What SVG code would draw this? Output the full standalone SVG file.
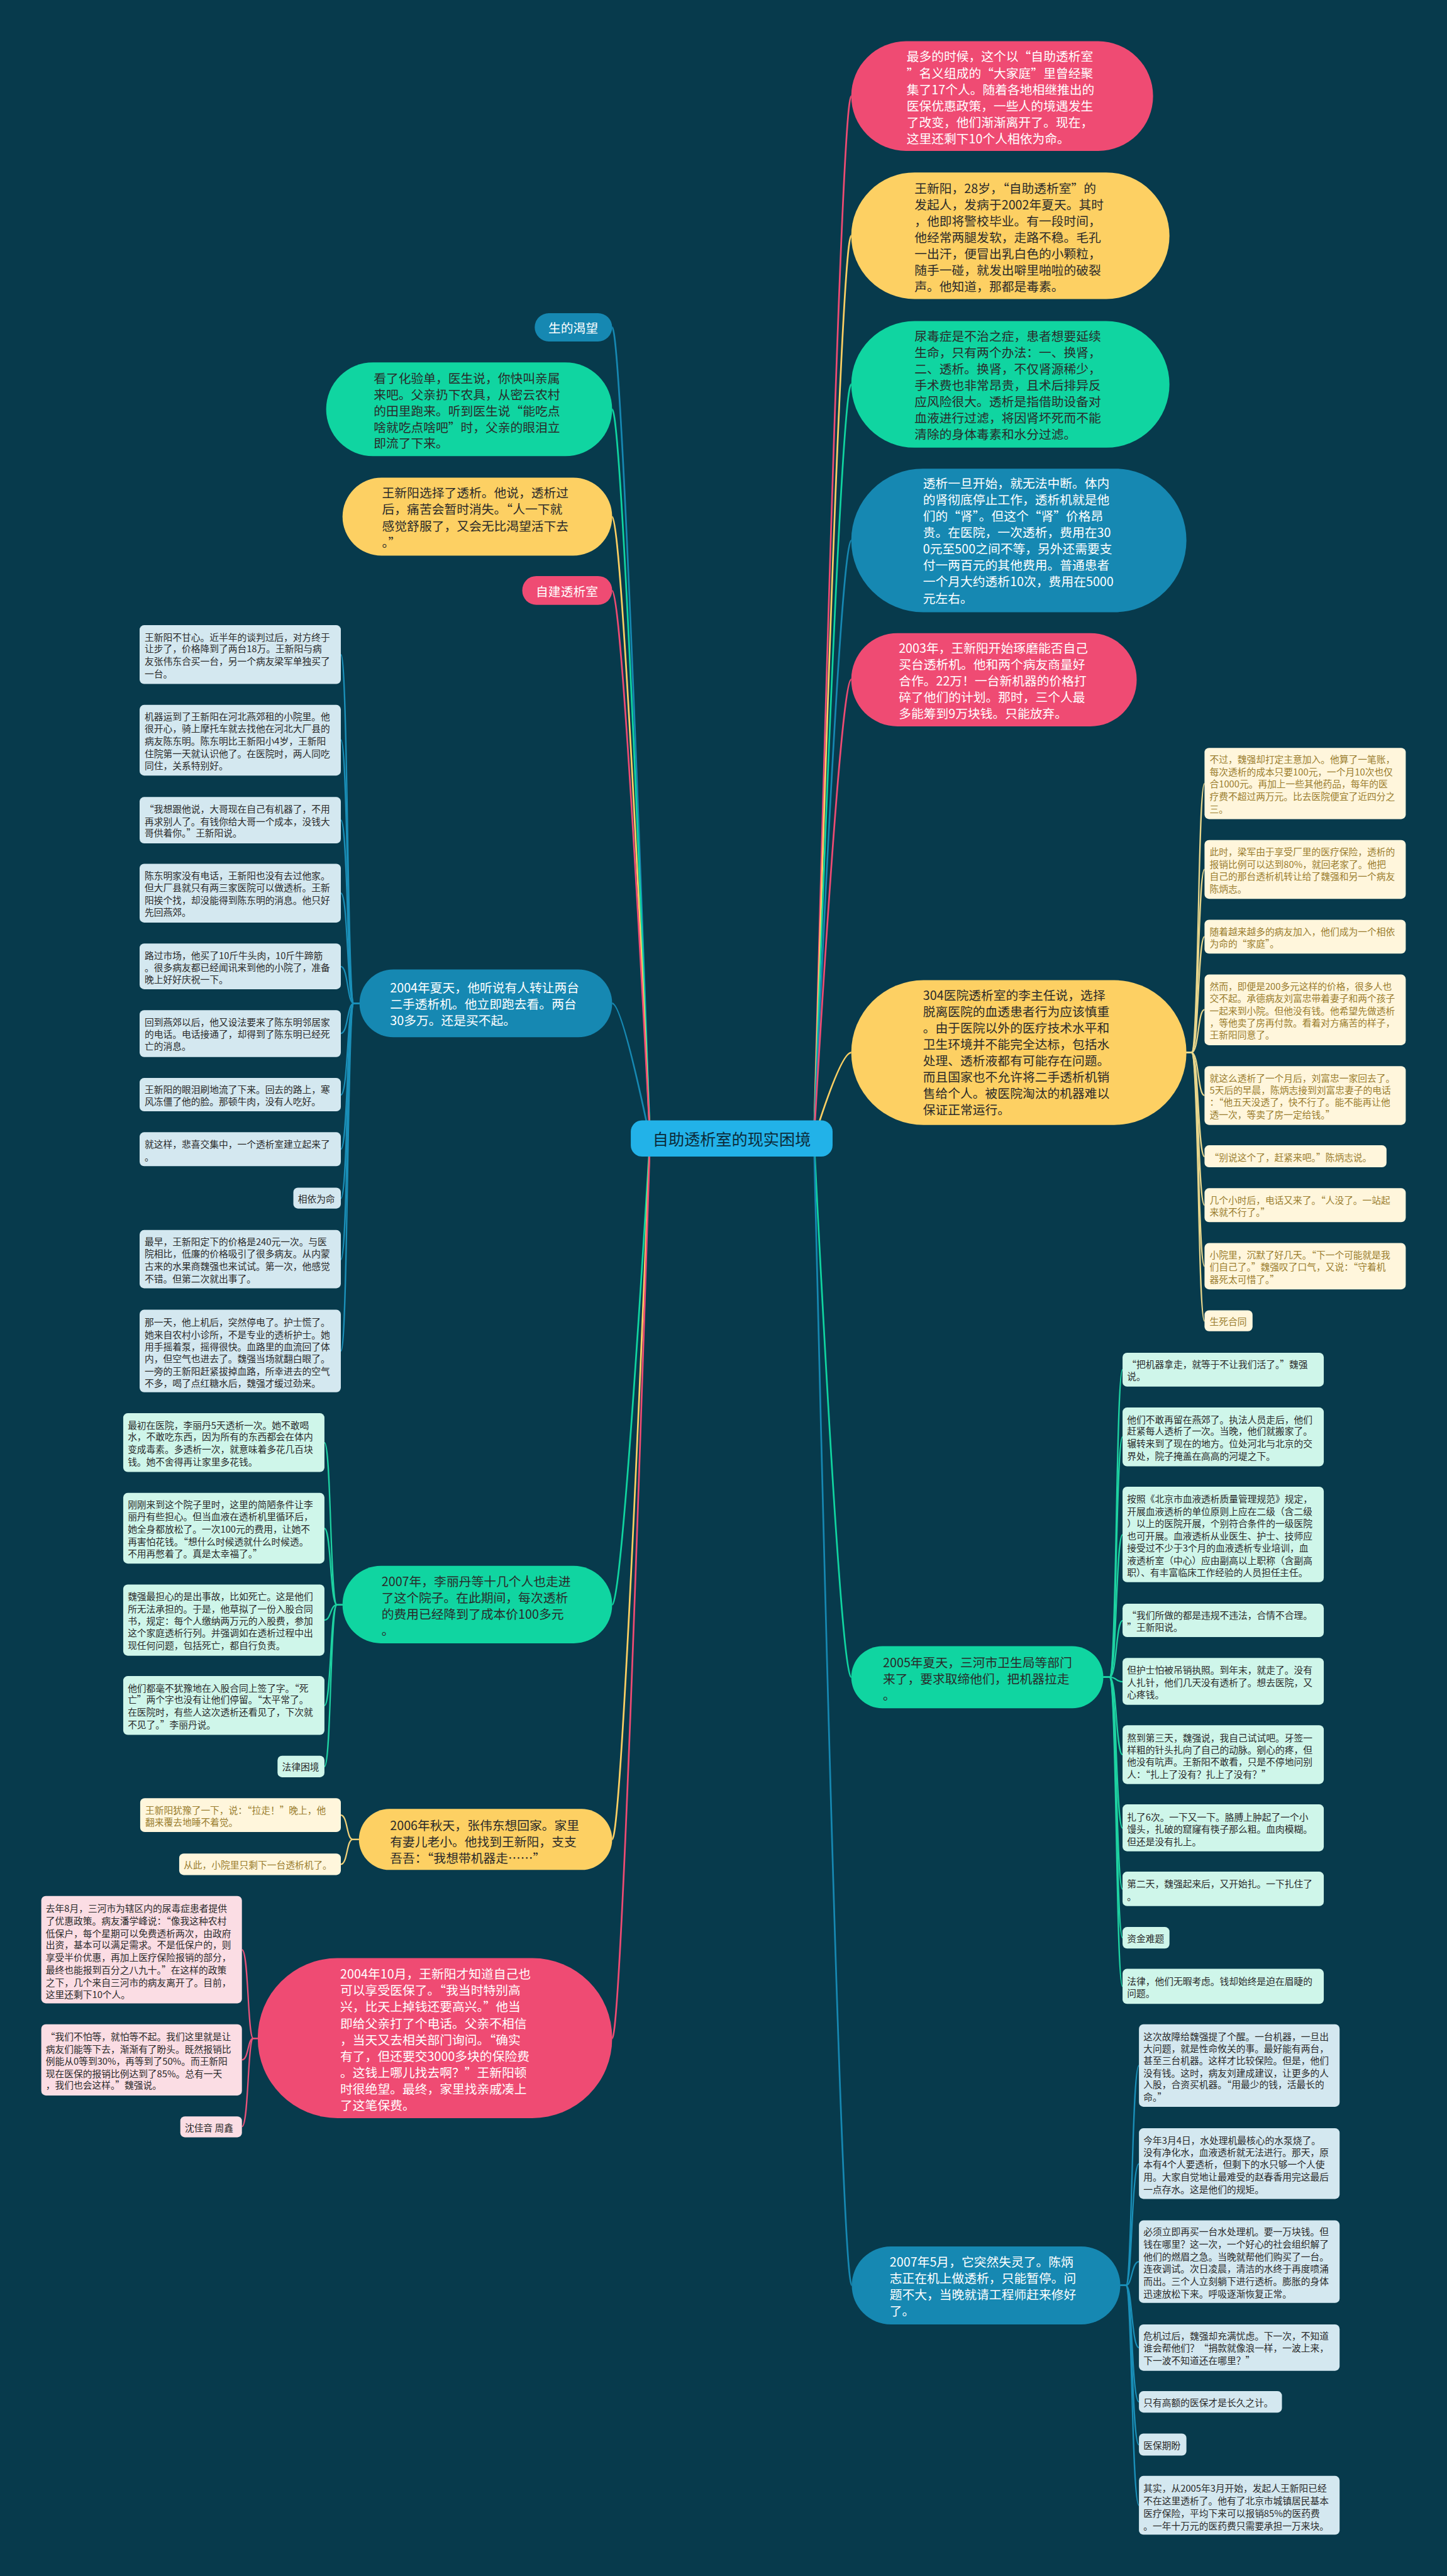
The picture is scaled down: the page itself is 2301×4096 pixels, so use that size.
<svg xmlns="http://www.w3.org/2000/svg" width="2301" height="4096" viewBox="0 0 2301 4096">
<style>
text{font-family:"Noto Sans CJK SC","Noto Sans",sans-serif;dominant-baseline:central}
.m{font-size:22px}
.c{font-size:16.4px}
.w{fill:#ffffff}
.d{fill:#2a2a2a}
.g{fill:#9a7d2e}
.cc{fill:none;stroke-width:3}
.ch{fill:none;stroke-width:2.5}
.pk{fill:#ef4b73}.yl{fill:#fdd063}.gn{fill:#10d5a1}.bl{fill:#1688b2}
.cr{fill:#fff6dc}.mn{fill:#cff6ea}.lb{fill:#d4e8f0}.lp{fill:#fbdde4}
</style>
<rect x="0" y="0" width="2301" height="4096" fill="#073a4c"/>
<g transform="scale(0.898828)">
<g id="connectors">
<!-- root to right -->
<path class="cc" stroke="#ef4b73" d="M1440 2014 Q1488 170 1506 170"/>
<path class="cc" stroke="#fdd063" d="M1440 2014 Q1488 417 1506 417"/>
<path class="cc" stroke="#10d5a1" d="M1440 2014 Q1488 680 1506 680"/>
<path class="cc" stroke="#1688b2" d="M1440 2014 Q1488 956 1506 956"/>
<path class="cc" stroke="#ef4b73" d="M1440 2014 Q1488 1202 1506 1202"/>
<path class="cc" stroke="#fdd063" d="M1440 2014 Q1488 1862 1506 1862"/>
<path class="cc" stroke="#10d5a1" d="M1440 2014 Q1488 2967 1506 2967"/>
<path class="cc" stroke="#1688b2" d="M1440 2014 Q1488 4043 1507 4043"/>
<!-- root to left -->
<path class="cc" stroke="#1688b2" d="M1150 2014 Q1100 579 1083 579"/>
<path class="cc" stroke="#10d5a1" d="M1150 2014 Q1100 724 1083 724"/>
<path class="cc" stroke="#fdd063" d="M1150 2014 Q1100 914 1083 914"/>
<path class="cc" stroke="#ef4b73" d="M1150 2014 Q1100 1045 1083 1045"/>
<path class="cc" stroke="#1688b2" d="M1150 2014 Q1100 1775 1083 1775"/>
<path class="cc" stroke="#10d5a1" d="M1150 2014 Q1100 2839 1083 2839"/>
<path class="cc" stroke="#fdd063" d="M1150 2014 Q1100 3254 1083 3254"/>
<path class="cc" stroke="#ef4b73" d="M1150 2014 Q1100 3606 1083 3606"/>
<!-- R6 children -->
<g stroke="#e8d68c">
<path class="ch" d="M2099 1862 H2108 C2121 1862 2119 1386 2131 1386"/>
<path class="ch" d="M2099 1862 H2108 C2121 1862 2119 1538 2131 1538"/>
<path class="ch" d="M2099 1862 H2108 C2121 1862 2119 1657 2131 1657"/>
<path class="ch" d="M2099 1862 H2108 C2121 1862 2119 1786 2131 1786"/>
<path class="ch" d="M2099 1862 H2108 C2121 1862 2119 1938 2131 1938"/>
<path class="ch" d="M2099 1862 H2108 C2121 1862 2119 2046 2131 2046"/>
<path class="ch" d="M2099 1862 H2108 C2121 1862 2119 2132 2131 2132"/>
<path class="ch" d="M2099 1862 H2108 C2121 1862 2119 2240 2131 2240"/>
<path class="ch" d="M2099 1862 H2108 C2121 1862 2119 2337 2131 2337"/>
</g>
<!-- R7 children -->
<g stroke="#1ed2a2">
<path class="ch" d="M1952 2967 H1963 C1976 2967 1974 2423 1986 2423"/>
<path class="ch" d="M1952 2967 H1963 C1976 2967 1974 2542 1986 2542"/>
<path class="ch" d="M1952 2967 H1963 C1976 2967 1974 2715 1986 2715"/>
<path class="ch" d="M1952 2967 H1963 C1976 2967 1974 2867 1986 2867"/>
<path class="ch" d="M1952 2967 H1963 C1976 2967 1974 2975 1986 2975"/>
<path class="ch" d="M1952 2967 H1963 C1976 2967 1974 3104 1986 3104"/>
<path class="ch" d="M1952 2967 H1963 C1976 2967 1974 3234 1986 3234"/>
<path class="ch" d="M1952 2967 H1963 C1976 2967 1974 3342 1986 3342"/>
<path class="ch" d="M1952 2967 H1963 C1976 2967 1974 3428 1986 3428"/>
<path class="ch" d="M1952 2967 H1963 C1976 2967 1974 3514 1986 3514"/>
</g>
<!-- R8 children -->
<g stroke="#1a8fb8">
<path class="ch" d="M1982 4043 H1992 C2003 4043 2002 3654 2015 3654"/>
<path class="ch" d="M1982 4043 H1992 C2003 4043 2002 3828 2015 3828"/>
<path class="ch" d="M1982 4043 H1992 C2003 4043 2002 4001 2015 4001"/>
<path class="ch" d="M1982 4043 H1992 C2003 4043 2002 4153 2015 4153"/>
<path class="ch" d="M1982 4043 H1992 C2003 4043 2002 4249 2015 4249"/>
<path class="ch" d="M1982 4043 H1992 C2003 4043 2002 4325 2015 4325"/>
<path class="ch" d="M1982 4043 H1992 C2003 4043 2002 4432 2015 4432"/>
</g>
<!-- 2004 summer children -->
<g stroke="#1a8fb8">
<path class="ch" d="M636 1775 H626 C614 1775 616 1158 603 1158"/>
<path class="ch" d="M636 1775 H626 C614 1775 616 1309 603 1309"/>
<path class="ch" d="M636 1775 H626 C614 1775 616 1451 603 1451"/>
<path class="ch" d="M636 1775 H626 C614 1775 616 1580 603 1580"/>
<path class="ch" d="M636 1775 H626 C614 1775 616 1710 603 1710"/>
<path class="ch" d="M636 1775 H626 C614 1775 616 1828 603 1828"/>
<path class="ch" d="M636 1775 H626 C614 1775 616 1937 603 1937"/>
<path class="ch" d="M636 1775 H626 C614 1775 616 2033 603 2033"/>
<path class="ch" d="M636 1775 H626 C614 1775 616 2120 603 2120"/>
<path class="ch" d="M636 1775 H626 C614 1775 616 2228 603 2228"/>
<path class="ch" d="M636 1775 H626 C614 1775 616 2390 603 2390"/>
</g>
<!-- 2007 children -->
<g stroke="#1ed2a2">
<path class="ch" d="M606 2839 H596 C584 2839 586 2552 574 2552"/>
<path class="ch" d="M606 2839 H596 C584 2839 586 2704 574 2704"/>
<path class="ch" d="M606 2839 H596 C584 2839 586 2866 574 2866"/>
<path class="ch" d="M606 2839 H596 C584 2839 586 3017 574 3017"/>
<path class="ch" d="M606 2839 H596 C584 2839 586 3125 574 3125"/>
</g>
<!-- 2006 children -->
<g stroke="#f2d27a">
<path class="ch" d="M635 3254 H624 C613 3254 615 3211 603 3211"/>
<path class="ch" d="M635 3254 H624 C613 3254 615 3298 603 3298"/>
</g>
<!-- 2004.10 children -->
<g stroke="#e8527a">
<path class="ch" d="M456 3606 H448 C438 3606 440 3449 428 3449"/>
<path class="ch" d="M456 3606 H448 C438 3606 440 3644 428 3644"/>
<path class="ch" d="M456 3606 H448 C438 3606 440 3762 428 3762"/>
</g>
</g>

<g id="n-root"><rect x="1116" y="1982" width="357" height="64" rx="20" fill="#22b2e8"/><text x="1294.5" y="2014" text-anchor="middle" font-size="28" fill="#0c2a38">自助透析室的现实困境</text></g>

<!-- right main nodes -->
<g id="n-r1"><rect class="pk" x="1506" y="73" width="534" height="194" rx="97"/>
<text class="m w" x="1604" y="99">最多的时候，这个以“自助透析室</text>
<text class="m w" x="1604" y="128">”名义组成的“大家庭”里曾经聚</text>
<text class="m w" x="1604" y="157">集了17个人。随着各地相继推出的</text>
<text class="m w" x="1604" y="186">医保优惠政策，一些人的境遇发生</text>
<text class="m w" x="1604" y="215">了改变，他们渐渐离开了。现在，</text>
<text class="m w" x="1604" y="244">这里还剩下10个人相依为命。</text></g>

<g id="n-r2"><rect class="yl" x="1506" y="305" width="563" height="224" rx="112"/>
<text class="m d" x="1618" y="332">王新阳，28岁，“自助透析室”的</text>
<text class="m d" x="1618" y="361">发起人，发病于2002年夏天。其时</text>
<text class="m d" x="1618" y="390">，他即将警校毕业。有一段时间，</text>
<text class="m d" x="1618" y="419">他经常两腿发软，走路不稳。毛孔</text>
<text class="m d" x="1618" y="448">一出汗，便冒出乳白色的小颗粒，</text>
<text class="m d" x="1618" y="477">随手一碰，就发出噼里啪啦的破裂</text>
<text class="m d" x="1618" y="506">声。他知道，那都是毒素。</text></g>

<g id="n-r3"><rect class="gn" x="1506" y="568" width="563" height="224" rx="112"/>
<text class="m d" x="1618" y="593">尿毒症是不治之症，患者想要延续</text>
<text class="m d" x="1618" y="622">生命，只有两个办法：一、换肾，</text>
<text class="m d" x="1618" y="651">二、透析。换肾，不仅肾源稀少，</text>
<text class="m d" x="1618" y="680">手术费也非常昂贵，且术后排异反</text>
<text class="m d" x="1618" y="709">应风险很大。透析是指借助设备对</text>
<text class="m d" x="1618" y="738">血液进行过滤，将因肾坏死而不能</text>
<text class="m d" x="1618" y="767">清除的身体毒素和水分过滤。</text></g>

<g id="n-r4"><rect class="bl" x="1506" y="829" width="593" height="254" rx="127"/>
<text class="m w" x="1633" y="854">透析一旦开始，就无法中断。体内</text>
<text class="m w" x="1633" y="883">的肾彻底停止工作，透析机就是他</text>
<text class="m w" x="1633" y="912">们的“肾”。但这个“肾”价格昂</text>
<text class="m w" x="1633" y="941">贵。在医院，一次透析，费用在30</text>
<text class="m w" x="1633" y="970">0元至500之间不等，另外还需要支</text>
<text class="m w" x="1633" y="999">付一两百元的其他费用。普通患者</text>
<text class="m w" x="1633" y="1028">一个月大约透析10次，费用在5000</text>
<text class="m w" x="1633" y="1057">元左右。</text></g>

<g id="n-r5"><rect class="pk" x="1506" y="1120" width="505" height="165" rx="82"/>
<text class="m w" x="1590" y="1145">2003年，王新阳开始琢磨能否自己</text>
<text class="m w" x="1590" y="1174">买台透析机。他和两个病友商量好</text>
<text class="m w" x="1590" y="1203">合作。22万！一台新机器的价格打</text>
<text class="m w" x="1590" y="1232">碎了他们的计划。那时，三个人最</text>
<text class="m w" x="1590" y="1261">多能筹到9万块钱。只能放弃。</text></g>

<g id="n-r6"><rect class="yl" x="1506" y="1734" width="593" height="256" rx="128"/>
<text class="m d" x="1633" y="1759">304医院透析室的李主任说，选择</text>
<text class="m d" x="1633" y="1788">脱离医院的血透患者行为应该慎重</text>
<text class="m d" x="1633" y="1817">。由于医院以外的医疗技术水平和</text>
<text class="m d" x="1633" y="1846">卫生环境并不能完全达标，包括水</text>
<text class="m d" x="1633" y="1875">处理、透析液都有可能存在问题。</text>
<text class="m d" x="1633" y="1904">而且国家也不允许将二手透析机销</text>
<text class="m d" x="1633" y="1933">售给个人。被医院淘汰的机器难以</text>
<text class="m d" x="1633" y="1962">保证正常运行。</text></g>

<g id="n-r7"><rect class="gn" x="1506" y="2912" width="446" height="110" rx="55"/>
<text class="m d" x="1562" y="2940">2005年夏天，三河市卫生局等部门</text>
<text class="m d" x="1562" y="2969">来了，要求取缔他们，把机器拉走</text>
<text class="m d" x="1562" y="2998">。</text></g>

<g id="n-r8"><rect class="bl" x="1507" y="3974" width="475" height="138" rx="69"/>
<text class="m w" x="1574" y="4000">2007年5月，它突然失灵了。陈炳</text>
<text class="m w" x="1574" y="4029">志正在机上做透析，只能暂停。问</text>
<text class="m w" x="1574" y="4058">题不大，当晚就请工程师赶来修好</text>
<text class="m w" x="1574" y="4087">了。</text></g>

<!-- R6 children -->
<g id="n-r6c1"><rect class="cr" x="2131" y="1323" width="356" height="126" rx="8"/>
<text class="c g" x="2140" y="1342">不过，魏强却打定主意加入。他算了一笔账，</text>
<text class="c g" x="2140" y="1364">每次透析的成本只要100元，一个月10次也仅</text>
<text class="c g" x="2140" y="1386">合1000元。再加上一些其他药品，每年的医</text>
<text class="c g" x="2140" y="1408">疗费不超过两万元。比去医院便宜了近四分之</text>
<text class="c g" x="2140" y="1430">三。</text></g>
<g id="n-r6c2"><rect class="cr" x="2131" y="1486" width="356" height="104" rx="8"/>
<text class="c g" x="2140" y="1506">此时，梁军由于享受厂里的医疗保险，透析的</text>
<text class="c g" x="2140" y="1528">报销比例可以达到80%，就回老家了。他把</text>
<text class="c g" x="2140" y="1549">自己的那台透析机转让给了魏强和另一个病友</text>
<text class="c g" x="2140" y="1571">陈炳志。</text></g>
<g id="n-r6c3"><rect class="cr" x="2131" y="1627" width="356" height="60" rx="8"/>
<text class="c g" x="2140" y="1647">随着越来越多的病友加入，他们成为一个相依</text>
<text class="c g" x="2140" y="1668">为命的“家庭”。</text></g>
<g id="n-r6c4"><rect class="cr" x="2131" y="1724" width="356" height="125" rx="8"/>
<text class="c g" x="2140" y="1744">然而，即便是200多元这样的价格，很多人也</text>
<text class="c g" x="2140" y="1765">交不起。承德病友刘富忠带着妻子和两个孩子</text>
<text class="c g" x="2140" y="1787">一起来到小院。但他没有钱。他希望先做透析</text>
<text class="c g" x="2140" y="1809">，等他卖了房再付款。看着对方痛苦的样子，</text>
<text class="c g" x="2140" y="1830">王新阳同意了。</text></g>
<g id="n-r6c5"><rect class="cr" x="2131" y="1886" width="356" height="104" rx="8"/>
<text class="c g" x="2140" y="1906">就这么透析了一个月后，刘富忠一家回去了。</text>
<text class="c g" x="2140" y="1927">5天后的早晨，陈炳志接到刘富忠妻子的电话</text>
<text class="c g" x="2140" y="1949">：“他五天没透了，快不行了。能不能再让他</text>
<text class="c g" x="2140" y="1971">透一次，等卖了房一定给钱。”</text></g>
<g id="n-r6c6"><rect class="cr" x="2131" y="2026" width="322" height="39" rx="8"/>
<text class="c g" x="2140" y="2046">“别说这个了，赶紧来吧。”陈炳志说。</text></g>
<g id="n-r6c7"><rect class="cr" x="2131" y="2102" width="356" height="60" rx="8"/>
<text class="c g" x="2140" y="2122">几个小时后，电话又来了。“人没了。一站起</text>
<text class="c g" x="2140" y="2143">来就不行了。”</text></g>
<g id="n-r6c8"><rect class="cr" x="2131" y="2199" width="356" height="82" rx="8"/>
<text class="c g" x="2140" y="2219">小院里，沉默了好几天。“下一个可能就是我</text>
<text class="c g" x="2140" y="2240">们自己了。”魏强叹了口气，又说：“守着机</text>
<text class="c g" x="2140" y="2262">器死太可惜了。”</text></g>
<g id="n-r6c9"><rect class="cr" x="2131" y="2318" width="85" height="37" rx="8"/>
<text class="c g" x="2140" y="2337">生死合同</text></g>

<!-- R7 children -->
<g id="n-r7c1"><rect class="mn" x="1986" y="2393" width="356" height="60" rx="8"/>
<text class="c d" x="1994" y="2413">“把机器拿走，就等于不让我们活了。”魏强</text>
<text class="c d" x="1994" y="2434">说。</text></g>
<g id="n-r7c2"><rect class="mn" x="1986" y="2490" width="356" height="104" rx="8"/>
<text class="c d" x="1994" y="2510">他们不敢再留在燕郊了。执法人员走后，他们</text>
<text class="c d" x="1994" y="2531">赶紧每人透析了一次。当晚，他们就搬家了。</text>
<text class="c d" x="1994" y="2553">辗转来到了现在的地方。位处河北与北京的交</text>
<text class="c d" x="1994" y="2575">界处，院子掩盖在高高的河堤之下。</text></g>
<g id="n-r7c3"><rect class="mn" x="1986" y="2630" width="356" height="169" rx="8"/>
<text class="c d" x="1994" y="2651">按照《北京市血液透析质量管理规范》规定，</text>
<text class="c d" x="1994" y="2673">开展血液透析的单位原则上应在二级（含二级</text>
<text class="c d" x="1994" y="2694">）以上的医院开展，个别符合条件的一级医院</text>
<text class="c d" x="1994" y="2716">也可开展。血液透析从业医生、护士、技师应</text>
<text class="c d" x="1994" y="2738">接受过不少于3个月的血液透析专业培训，血</text>
<text class="c d" x="1994" y="2760">液透析室（中心）应由副高以上职称（含副高</text>
<text class="c d" x="1994" y="2781">职）、有丰富临床工作经验的人员担任主任。</text></g>
<g id="n-r7c4"><rect class="mn" x="1986" y="2837" width="356" height="59" rx="8"/>
<text class="c d" x="1994" y="2856">“我们所做的都是违规不违法，合情不合理。</text>
<text class="c d" x="1994" y="2878">”王新阳说。</text></g>
<g id="n-r7c5"><rect class="mn" x="1986" y="2933" width="356" height="83" rx="8"/>
<text class="c d" x="1994" y="2953">但护士怕被吊销执照。到年末，就走了。没有</text>
<text class="c d" x="1994" y="2975">人扎针，他们几天没有透析了。想去医院，又</text>
<text class="c d" x="1994" y="2997">心疼钱。</text></g>
<g id="n-r7c6"><rect class="mn" x="1986" y="3052" width="356" height="104" rx="8"/>
<text class="c d" x="1994" y="3074">熬到第三天，魏强说，我自己试试吧。牙签一</text>
<text class="c d" x="1994" y="3095">样粗的针头扎向了自己的动脉。剜心的疼，但</text>
<text class="c d" x="1994" y="3116">他没有吭声。王新阳不敢看，只是不停地问别</text>
<text class="c d" x="1994" y="3138">人：“扎上了没有？扎上了没有？”</text></g>
<g id="n-r7c7"><rect class="mn" x="1986" y="3192" width="356" height="83" rx="8"/>
<text class="c d" x="1994" y="3214">扎了6次。一下又一下。胳膊上肿起了一个小</text>
<text class="c d" x="1994" y="3235">馒头，扎破的窟窿有筷子那么粗。血肉模糊。</text>
<text class="c d" x="1994" y="3257">但还是没有扎上。</text></g>
<g id="n-r7c8"><rect class="mn" x="1986" y="3311" width="356" height="61" rx="8"/>
<text class="c d" x="1994" y="3332">第二天，魏强起来后，又开始扎。一下扎住了</text>
<text class="c d" x="1994" y="3354">。</text></g>
<g id="n-r7c9"><rect class="mn" x="1986" y="3409" width="83" height="38" rx="8"/>
<text class="c d" x="1994" y="3428">资金难题</text></g>
<g id="n-r7c10"><rect class="mn" x="1986" y="3483" width="356" height="62" rx="8"/>
<text class="c d" x="1994" y="3504">法律，他们无暇考虑。钱却始终是迫在眉睫的</text>
<text class="c d" x="1994" y="3525">问题。</text></g>

<!-- R8 children -->
<g id="n-r8c1"><rect class="lb" x="2015" y="3581" width="355" height="146" rx="8"/>
<text class="c d" x="2023" y="3602">这次故障给魏强提了个醒。一台机器，一旦出</text>
<text class="c d" x="2023" y="3623">大问题，就是性命攸关的事。最好能有两台，</text>
<text class="c d" x="2023" y="3644">甚至三台机器。这样才比较保险。但是，他们</text>
<text class="c d" x="2023" y="3666">没有钱。这时，病友刘建成建议，让更多的人</text>
<text class="c d" x="2023" y="3687">入股，合资买机器。“用最少的钱，活最长的</text>
<text class="c d" x="2023" y="3709">命。”</text></g>
<g id="n-r8c2"><rect class="lb" x="2015" y="3765" width="355" height="125" rx="8"/>
<text class="c d" x="2023" y="3786">今年3月4日，水处理机最核心的水泵烧了。</text>
<text class="c d" x="2023" y="3807">没有净化水，血液透析就无法进行。那天，原</text>
<text class="c d" x="2023" y="3828">本有4个人要透析，但剩下的水只够一个人使</text>
<text class="c d" x="2023" y="3850">用。大家自觉地让最难受的赵春香用完这最后</text>
<text class="c d" x="2023" y="3872">一点存水。这是他们的规矩。</text></g>
<g id="n-r8c3"><rect class="lb" x="2015" y="3928" width="355" height="146" rx="8"/>
<text class="c d" x="2023" y="3947">必须立即再买一台水处理机。要一万块钱。但</text>
<text class="c d" x="2023" y="3969">钱在哪里？这一次，一个好心的社会组织解了</text>
<text class="c d" x="2023" y="3991">他们的燃眉之急。当晚就帮他们购买了一台。</text>
<text class="c d" x="2023" y="4013">连夜调试。次日凌晨，清洁的水终于再度喷涌</text>
<text class="c d" x="2023" y="4035">而出。三个人立刻躺下进行透析。膨胀的身体</text>
<text class="c d" x="2023" y="4057">迅速放松下来。呼吸逐渐恢复正常。</text></g>
<g id="n-r8c4"><rect class="lb" x="2015" y="4112" width="355" height="82" rx="8"/>
<text class="c d" x="2023" y="4131">危机过后，魏强却充满忧虑。下一次，不知道</text>
<text class="c d" x="2023" y="4153">谁会帮他们？“捐款就像浪一样，一波上来，</text>
<text class="c d" x="2023" y="4175">下一波不知道还在哪里？”</text></g>
<g id="n-r8c5"><rect class="lb" x="2015" y="4230" width="253" height="38" rx="8"/>
<text class="c d" x="2023" y="4249">只有高额的医保才是长久之计。</text></g>
<g id="n-r8c6"><rect class="lb" x="2015" y="4305" width="84" height="39" rx="8"/>
<text class="c d" x="2023" y="4325">医保期盼</text></g>
<g id="n-r8c7"><rect class="lb" x="2015" y="4380" width="355" height="104" rx="8"/>
<text class="c d" x="2023" y="4401">其实，从2005年3月开始，发起人王新阳已经</text>
<text class="c d" x="2023" y="4423">不在这里透析了。他有了北京市城镇居民基本</text>
<text class="c d" x="2023" y="4445">医疗保险，平均下来可以报销85%的医药费</text>
<text class="c d" x="2023" y="4467">。一年十万元的医药费只需要承担一万来块。</text></g>

<!-- left main nodes -->
<g id="n-l1"><rect class="bl" x="946" y="554" width="137" height="50" rx="25"/>
<text class="m w" x="1014" y="579" text-anchor="middle">生的渴望</text></g>
<g id="n-l2"><rect class="gn" x="577" y="641" width="506" height="166" rx="83"/>
<text class="m d" x="661" y="668">看了化验单，医生说，你快叫亲属</text>
<text class="m d" x="661" y="697">来吧。父亲扔下农具，从密云农村</text>
<text class="m d" x="661" y="726">的田里跑来。听到医生说“能吃点</text>
<text class="m d" x="661" y="755">啥就吃点啥吧”时，父亲的眼泪立</text>
<text class="m d" x="661" y="783">即流了下来。</text></g>
<g id="n-l3"><rect class="yl" x="606" y="845" width="477" height="138" rx="69"/>
<text class="m d" x="676" y="871">王新阳选择了透析。他说，透析过</text>
<text class="m d" x="676" y="900">后，痛苦会暂时消失。“人一下就</text>
<text class="m d" x="676" y="929">感觉舒服了，又会无比渴望活下去</text>
<text class="m d" x="676" y="958">。”</text></g>
<g id="n-l4"><rect class="pk" x="924" y="1019" width="159" height="51" rx="25"/>
<text class="m w" x="1003" y="1045" text-anchor="middle">自建透析室</text></g>
<g id="n-l5"><rect class="bl" x="636" y="1715" width="447" height="120" rx="60"/>
<text class="m w" x="690" y="1746">2004年夏天，他听说有人转让两台</text>
<text class="m w" x="690" y="1775">二手透析机。他立即跑去看。两台</text>
<text class="m w" x="690" y="1804">30多万。还是买不起。</text></g>
<g id="n-l6"><rect class="gn" x="606" y="2770" width="477" height="137" rx="68"/>
<text class="m d" x="675" y="2796">2007年，李丽丹等十几个人也走进</text>
<text class="m d" x="675" y="2825">了这个院子。在此期间，每次透析</text>
<text class="m d" x="675" y="2854">的费用已经降到了成本价100多元</text>
<text class="m d" x="675" y="2883">。</text></g>
<g id="n-l7"><rect class="yl" x="635" y="3200" width="448" height="108" rx="54"/>
<text class="m d" x="690" y="3228">2006年秋天，张伟东想回家。家里</text>
<text class="m d" x="690" y="3257">有妻儿老小。他找到王新阳，支支</text>
<text class="m d" x="690" y="3286">吾吾：“我想带机器走……”</text></g>
<g id="n-l8"><rect class="pk" x="456" y="3464" width="627" height="283" rx="141"/>
<text class="m w" x="602" y="3491">2004年10月，王新阳才知道自己也</text>
<text class="m w" x="602" y="3520">可以享受医保了。“我当时特别高</text>
<text class="m w" x="602" y="3549">兴，比天上掉钱还要高兴。”他当</text>
<text class="m w" x="602" y="3578">即给父亲打了个电话。父亲不相信</text>
<text class="m w" x="602" y="3607">，当天又去相关部门询问。“确实</text>
<text class="m w" x="602" y="3636">有了，但还要交3000多块的保险费</text>
<text class="m w" x="602" y="3665">。这钱上哪儿找去啊？”王新阳顿</text>
<text class="m w" x="602" y="3694">时很绝望。最终，家里找亲戚凑上</text>
<text class="m w" x="602" y="3723">了这笔保费。</text></g>

<!-- 2004 summer children -->
<g id="n-l5c1"><rect class="lb" x="247" y="1106" width="356" height="104" rx="8"/>
<text class="c d" x="256" y="1126">王新阳不甘心。近半年的谈判过后，对方终于</text>
<text class="c d" x="256" y="1147">让步了，价格降到了两台18万。王新阳与病</text>
<text class="c d" x="256" y="1169">友张伟东合买一台，另一个病友梁军单独买了</text>
<text class="c d" x="256" y="1191">一台。</text></g>
<g id="n-l5c2"><rect class="lb" x="247" y="1247" width="356" height="125" rx="8"/>
<text class="c d" x="256" y="1267">机器运到了王新阳在河北燕郊租的小院里。他</text>
<text class="c d" x="256" y="1288">很开心，骑上摩托车就去找他在河北大厂县的</text>
<text class="c d" x="256" y="1310">病友陈东明。陈东明比王新阳小4岁，王新阳</text>
<text class="c d" x="256" y="1332">住院第一天就认识他了。在医院时，两人同吃</text>
<text class="c d" x="256" y="1353">同住，关系特别好。</text></g>
<g id="n-l5c3"><rect class="lb" x="247" y="1410" width="356" height="82" rx="8"/>
<text class="c d" x="256" y="1430">“我想跟他说，大哥现在自己有机器了，不用</text>
<text class="c d" x="256" y="1452">再求别人了。有钱你给大哥一个成本，没钱大</text>
<text class="c d" x="256" y="1473">哥供着你。”王新阳说。</text></g>
<g id="n-l5c4"><rect class="lb" x="247" y="1528" width="356" height="104" rx="8"/>
<text class="c d" x="256" y="1548">陈东明家没有电话，王新阳也没有去过他家。</text>
<text class="c d" x="256" y="1569">但大厂县就只有两三家医院可以做透析。王新</text>
<text class="c d" x="256" y="1591">阳挨个找，却没能得到陈东明的消息。他只好</text>
<text class="c d" x="256" y="1613">先回燕郊。</text></g>
<g id="n-l5c5"><rect class="lb" x="247" y="1669" width="356" height="81" rx="8"/>
<text class="c d" x="256" y="1689">路过市场，他买了10斤牛头肉，10斤牛蹄筋</text>
<text class="c d" x="256" y="1711">。很多病友都已经闻讯来到他的小院了，准备</text>
<text class="c d" x="256" y="1732">晚上好好庆祝一下。</text></g>
<g id="n-l5c6"><rect class="lb" x="247" y="1787" width="356" height="83" rx="8"/>
<text class="c d" x="256" y="1807">回到燕郊以后，他又设法要来了陈东明邻居家</text>
<text class="c d" x="256" y="1829">的电话。电话接通了，却得到了陈东明已经死</text>
<text class="c d" x="256" y="1850">亡的消息。</text></g>
<g id="n-l5c7"><rect class="lb" x="247" y="1907" width="356" height="59" rx="8"/>
<text class="c d" x="256" y="1926">王新阳的眼泪刷地流了下来。回去的路上，寒</text>
<text class="c d" x="256" y="1948">风冻僵了他的脸。那顿牛肉，没有人吃好。</text></g>
<g id="n-l5c8"><rect class="lb" x="247" y="2003" width="356" height="60" rx="8"/>
<text class="c d" x="256" y="2023">就这样，悲喜交集中，一个透析室建立起来了</text>
<text class="c d" x="256" y="2045">。</text></g>
<g id="n-l5c9"><rect class="lb" x="519" y="2101" width="84" height="37" rx="8"/>
<text class="c d" x="527" y="2120">相依为命</text></g>
<g id="n-l5c10"><rect class="lb" x="247" y="2176" width="356" height="103" rx="8"/>
<text class="c d" x="256" y="2196">最早，王新阳定下的价格是240元一次。与医</text>
<text class="c d" x="256" y="2217">院相比，低廉的价格吸引了很多病友。从内蒙</text>
<text class="c d" x="256" y="2239">古来的水果商魏强也来试试。第一次，他感觉</text>
<text class="c d" x="256" y="2261">不错。但第二次就出事了。</text></g>
<g id="n-l5c11"><rect class="lb" x="247" y="2317" width="356" height="146" rx="8"/>
<text class="c d" x="256" y="2338">那一天，他上机后，突然停电了。护士慌了。</text>
<text class="c d" x="256" y="2360">她来自农村小诊所，不是专业的透析护士。她</text>
<text class="c d" x="256" y="2381">用手摇着泵，摇得很快。血路里的血流回了体</text>
<text class="c d" x="256" y="2403">内，但空气也进去了。魏强当场就翻白眼了。</text>
<text class="c d" x="256" y="2425">一旁的王新阳赶紧拔掉血路，所幸进去的空气</text>
<text class="c d" x="256" y="2446">不多，喝了点红糖水后，魏强才缓过劲来。</text></g>

<!-- 2007 children -->
<g id="n-l6c1"><rect class="mn" x="218" y="2500" width="356" height="104" rx="8"/>
<text class="c d" x="226" y="2520">最初在医院，李丽丹5天透析一次。她不敢喝</text>
<text class="c d" x="226" y="2541">水，不敢吃东西，因为所有的东西都会在体内</text>
<text class="c d" x="226" y="2563">变成毒素。多透析一次，就意味着多花几百块</text>
<text class="c d" x="226" y="2585">钱。她不舍得再让家里多花钱。</text></g>
<g id="n-l6c2"><rect class="mn" x="218" y="2641" width="356" height="125" rx="8"/>
<text class="c d" x="226" y="2661">刚刚来到这个院子里时，这里的简陋条件让李</text>
<text class="c d" x="226" y="2682">丽丹有些担心。但当血液在透析机里循环后，</text>
<text class="c d" x="226" y="2704">她全身都放松了。一次100元的费用，让她不</text>
<text class="c d" x="226" y="2726">再害怕花钱。“想什么时候透就什么时候透。</text>
<text class="c d" x="226" y="2747">不用再憋着了。真是太幸福了。”</text></g>
<g id="n-l6c3"><rect class="mn" x="218" y="2803" width="356" height="126" rx="8"/>
<text class="c d" x="226" y="2823">魏强最担心的是出事故，比如死亡。这是他们</text>
<text class="c d" x="226" y="2845">所无法承担的。于是，他草拟了一份入股合同</text>
<text class="c d" x="226" y="2867">书，规定：每个人缴纳两万元的入股费，参加</text>
<text class="c d" x="226" y="2888">这个家庭透析行列。并强调如在透析过程中出</text>
<text class="c d" x="226" y="2910">现任何问题，包括死亡，都自行负责。</text></g>
<g id="n-l6c4"><rect class="mn" x="218" y="2965" width="356" height="104" rx="8"/>
<text class="c d" x="226" y="2985">他们都毫不犹豫地在入股合同上签了字。“死</text>
<text class="c d" x="226" y="3006">亡”两个字也没有让他们停留。“太平常了。</text>
<text class="c d" x="226" y="3028">在医院时，有些人这次透析还看见了，下次就</text>
<text class="c d" x="226" y="3050">不见了。”李丽丹说。</text></g>
<g id="n-l6c5"><rect class="mn" x="491" y="3106" width="83" height="38" rx="8"/>
<text class="c d" x="499" y="3125">法律困境</text></g>

<!-- 2006 children -->
<g id="n-l7c1"><rect class="cr" x="248" y="3181" width="355" height="60" rx="8"/>
<text class="c g" x="257" y="3201">王新阳犹豫了一下，说：“拉走！”晚上，他</text>
<text class="c g" x="257" y="3222">翻来覆去地睡不着觉。</text></g>
<g id="n-l7c2"><rect class="cr" x="317" y="3279" width="286" height="38" rx="8"/>
<text class="c g" x="325" y="3298">从此，小院里只剩下一台透析机了。</text></g>

<!-- 2004.10 children -->
<g id="n-l8c1"><rect class="lp" x="73" y="3354" width="355" height="190" rx="8"/>
<text class="c d" x="81" y="3375">去年8月，三河市为辖区内的尿毒症患者提供</text>
<text class="c d" x="81" y="3397">了优惠政策。病友潘学峰说：“像我这种农村</text>
<text class="c d" x="81" y="3419">低保户，每个星期可以免费透析两次，由政府</text>
<text class="c d" x="81" y="3440">出资，基本可以满足需求。不是低保户的，则</text>
<text class="c d" x="81" y="3462">享受半价优惠，再加上医疗保险报销的部分，</text>
<text class="c d" x="81" y="3484">最终也能报到百分之八九十。”在这样的政策</text>
<text class="c d" x="81" y="3506">之下，几个来自三河市的病友离开了。目前，</text>
<text class="c d" x="81" y="3527">这里还剩下10个人。</text></g>
<g id="n-l8c2"><rect class="lp" x="73" y="3581" width="355" height="126" rx="8"/>
<text class="c d" x="81" y="3602">“我们不怕等，就怕等不起。我们这里就是让</text>
<text class="c d" x="81" y="3624">病友们能等下去，渐渐有了盼头。既然报销比</text>
<text class="c d" x="81" y="3645">例能从0等到30%，再等到了50%。而王新阳</text>
<text class="c d" x="81" y="3667">现在医保的报销比例达到了85%。总有一天</text>
<text class="c d" x="81" y="3688">，我们也会这样。”魏强说。</text></g>
<g id="n-l8c3"><rect class="lp" x="319" y="3744" width="109" height="37" rx="8"/>
<text class="c d" x="327" y="3763">沈佳音 周鑫</text></g>
</g>
</svg>
